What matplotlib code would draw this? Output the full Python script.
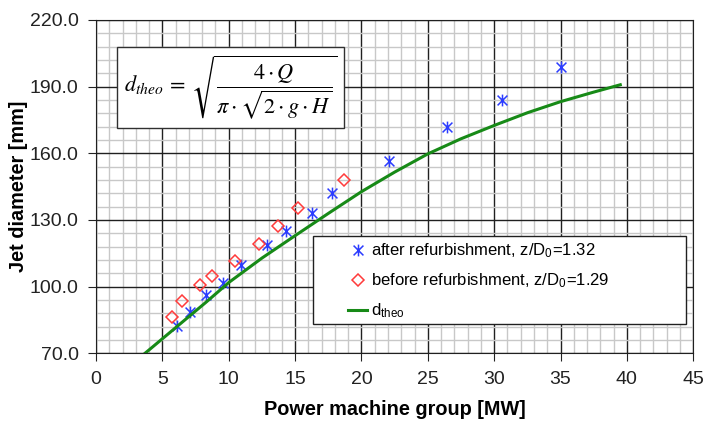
import numpy as np
import matplotlib.pyplot as plt
from matplotlib.path import Path
from matplotlib.patches import Rectangle
from matplotlib.ticker import MultipleLocator, FormatStrFormatter

plt.rcParams['font.family'] = ['Liberation Sans', 'DejaVu Sans']
plt.rcParams['mathtext.fontset'] = 'stix'

# measured jet diameters vs. power of the machine group
p_after = [6.1, 7.1, 8.3, 9.55, 10.9, 12.9, 14.3, 16.25, 17.75, 22.1, 26.45, 30.55, 35.05]
d_after = [82.3, 88.6, 96.1, 101.6, 109.5, 118.7, 125.0, 133.0, 142.0, 156.5, 171.6, 183.9, 198.6]

p_before = [5.75, 6.5, 7.8, 8.75, 10.45, 12.25, 13.7, 15.25, 18.7]
d_before = [86.3, 93.3, 100.7, 104.6, 111.5, 119.2, 127.1, 135.4, 147.8]

# theoretical jet diameter
p_theo = [3.7, 5.0, 6.0, 8.3, 10.0, 12.5, 15.0, 17.5, 20.0, 22.5, 25.0, 27.5, 30.0, 32.5, 35.0, 37.5, 39.5]
d_theo = [70.0, 76.5, 81.5, 93.0, 101.8, 112.8, 122.9, 132.9, 142.7, 151.5, 159.7, 166.5, 172.5, 178.2, 183.2, 187.5, 190.8]

# six-armed star marker: vertical bar plus a cross
star = Path([(-1, -1), (1, 1), (-1, 1), (1, -1), (0, -1.2), (0, 1.2)],
            [Path.MOVETO, Path.LINETO, Path.MOVETO, Path.LINETO, Path.MOVETO, Path.LINETO])

fig = plt.figure(figsize=(7.06, 4.23), dpi=100)
ax = fig.add_axes([0.136, 0.165, 0.846, 0.788])

ax.plot(p_after, d_after, linestyle='none', marker=star, markersize=8.5, markeredgewidth=1.1,
        color='#2b3cff', label=r'after refurbishment, z/D$_\mathregular{0}$=1.32')
ax.plot(p_before, d_before, linestyle='none', marker='D', markersize=6, markeredgewidth=1.1,
        markerfacecolor='none', color='#ff3b3b', label=r'before refurbishment, z/D$_\mathregular{0}$=1.29')
ax.plot(p_theo, d_theo, color='#178a17', linewidth=2.2, label=r'd$_\mathregular{theo}$')

ax.set_xlim(0, 45)
ax.set_ylim(70, 220)
ax.xaxis.set_major_locator(MultipleLocator(5))
ax.xaxis.set_minor_locator(MultipleLocator(1))
ax.yaxis.set_major_locator(MultipleLocator(30, offset=10))
ax.yaxis.set_minor_locator(MultipleLocator(6, offset=4))
ax.yaxis.set_major_formatter(FormatStrFormatter('%.1f'))
ax.grid(which='minor', color='#c8c8c8', linewidth=1.0)
ax.grid(which='major', color='#202020', linewidth=1.0)
ax.set_axisbelow(True)
ax.tick_params(which='major', direction='out', length=6, labelsize=14, colors='#222222', pad=6.5)
ax.tick_params(which='minor', length=0)
for s in ax.spines.values():
    s.set_color('#202020')

ax.set_xlabel('Power machine group [MW]', fontsize=14.3, fontweight='bold', labelpad=9)
ax.set_ylabel('Jet diameter [mm]', fontsize=14.3, fontweight='bold', labelpad=1)

ax.text(0.047, 0.797,
        r'$d_{theo}\:=\:\sqrt{\dfrac{4\cdot Q}{\pi\cdot\sqrt{2\cdot g\cdot H}}}$',
        transform=ax.transAxes, fontsize=16, va='center', ha='left',
        bbox=dict(boxstyle='square,pad=0.3', facecolor='white', edgecolor='#303030', linewidth=1.0))

# legend frame drawn separately so the entries sit well inside it
ax.add_patch(Rectangle((0.3635, 0.088), 0.6245, 0.264, transform=ax.transAxes,
                       facecolor='white', edgecolor='#202020', linewidth=1.0, zorder=4))
leg = ax.legend(loc='center left', bbox_to_anchor=(0.422, 0.217), fontsize=12, frameon=False,
                handlelength=1.15, handletextpad=0.25, borderpad=0, borderaxespad=0,
                labelspacing=0.7)
leg.set_zorder(5)

fig.savefig('out.png', dpi=100)
